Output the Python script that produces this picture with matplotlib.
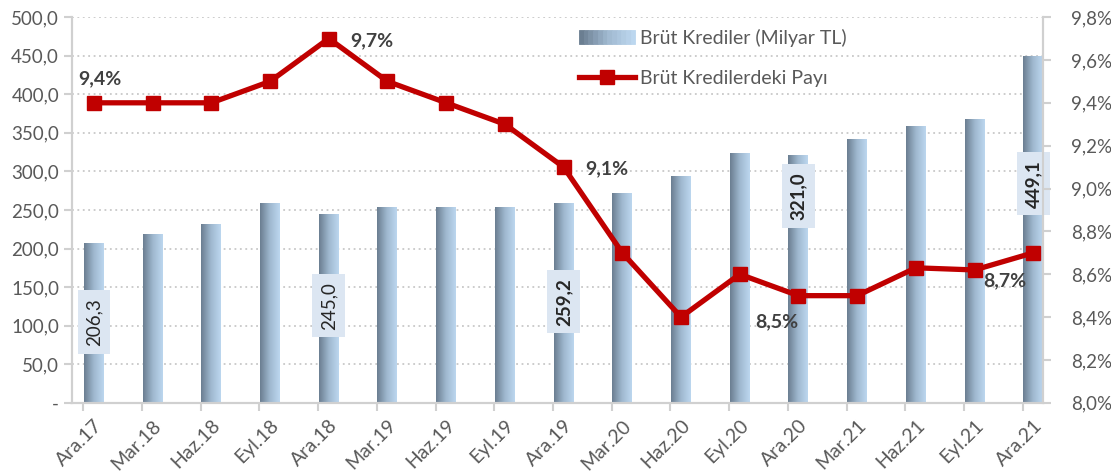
import numpy as np
import matplotlib.pyplot as plt
from matplotlib.patches import Patch
from matplotlib.lines import Line2D
from matplotlib.legend_handler import HandlerTuple
from matplotlib.colors import LinearSegmentedColormap

plt.rcParams['font.family'] = ['Lato', 'DejaVu Sans']

periods = ['Ara.17', 'Mar.18', 'Haz.18', 'Eyl.18', 'Ara.18', 'Mar.19', 'Haz.19', 'Eyl.19', 'Ara.19',
           'Mar.20', 'Haz.20', 'Eyl.20', 'Ara.20', 'Mar.21', 'Haz.21', 'Eyl.21', 'Ara.21']
credits = [206.3, 218, 232, 259, 245.0, 254, 254, 253, 259.2,
           271, 293, 324, 321.0, 341, 358, 367, 449.1]
share = [9.4, 9.4, 9.4, 9.5, 9.7, 9.5, 9.4, 9.3, 9.1,
         8.7, 8.4, 8.6, 8.5, 8.5, 8.63, 8.62, 8.7]

# labelled bars: index -> (bold, y of label centre)
bar_labels = {0: (False, 105), 4: (False, 126), 8: (True, 131), 12: (True, 268), 16: (True, 284)}
# labelled points: index -> (dx, dy, text)
pct_labels = {0: (0.1, 0.11, '9,4%'), 4: (0.74, -0.01, '9,7%'), 8: (0.74, -0.01, '9,1%'),
              12: (-0.37, -0.12, '8,5%'), 15: (0.51, -0.05, '8,7%')}

red = '#c00000'
grey = '#595959'
cmap = LinearSegmentedColormap.from_list('bar', ['#6b7e91', '#9fb8cf', '#bcd7ef'])

fig = plt.figure(figsize=(11.11, 4.75), dpi=100)
ax = fig.add_axes([0.065, 0.152, 0.874, 0.812])
ax2 = ax.twinx()

x = np.arange(len(periods))
w = 0.34
ax.bar(x, credits, width=w, color='none', zorder=2)
grad = np.linspace(0, 1, 64).reshape(1, -1)
for xi, v in zip(x, credits):
    ax.imshow(grad, cmap=cmap, aspect='auto', extent=[xi - w / 2, xi + w / 2, 0, v], zorder=2)

ax.set_xlim(-0.37, 16.17)
ax.set_ylim(0, 500)
ax.set_yticks(np.arange(0, 501, 50))
ax.set_yticklabels(['-'] + [('%.1f' % v).replace('.', ',') for v in np.arange(50, 501, 50)])
ax.grid(axis='y', color='#c8c8c8', linestyle=(0, (1, 2)), linewidth=1.3, zorder=0)
ax.set_axisbelow(True)

ax.set_xticks(x)
ax.set_xticklabels(periods, rotation=45, ha='right', rotation_mode='anchor', fontsize=14, color=grey)
ax.tick_params(axis='x', length=0, pad=10)
ax.set_xticks(x - 0.18, minor=True)
ax.tick_params(axis='x', which='minor', length=6, color='#d0d0d0', width=1.5)
ax.tick_params(axis='y', labelsize=13.5, labelcolor=grey, length=6, color='#d0d0d0', width=1.5)

for a in (ax, ax2):
    a.spines['top'].set_visible(False)
    for s in ['left', 'bottom', 'right']:
        a.spines[s].set_color('#d0d0d0')
        a.spines[s].set_linewidth(1.5)

for i, (bold, yc) in bar_labels.items():
    ax.text(x[i], yc, ('%.1f' % credits[i]).replace('.', ','), rotation=90, ha='center', va='center',
            fontsize=13.5, fontweight='bold' if bold else 'normal', color='#262626', zorder=4,
            bbox=dict(boxstyle='square,pad=0.42', fc='#dce6f2', ec='none'))

ax2.plot(x, share, color=red, lw=3.8, marker='s', markersize=10, zorder=5)
ax2.set_ylim(8.0, 9.8)
ax2.set_yticks(np.arange(8.0, 9.81, 0.2))
ax2.set_yticklabels([('%.1f%%' % v).replace('.', ',') for v in np.arange(8.0, 9.81, 0.2)])
ax2.tick_params(axis='y', labelsize=13.5, labelcolor=grey, length=6, color='#d0d0d0', width=1.5, pad=14)

for i, (dx, dy, txt) in pct_labels.items():
    ax2.text(x[i] + dx, share[i] + dy, txt, ha='center', va='center', fontsize=14,
             fontweight='bold', color='#404040', zorder=6)

grad_patches = tuple(Patch(facecolor=cmap(t), edgecolor=cmap(t), lw=0.6) for t in np.linspace(0, 1, 12))
handles = [grad_patches, Line2D([0], [0], color=red, lw=3.8, marker='s', markersize=10)]
ax2.legend(handles, ['Brüt Krediler (Milyar TL)', 'Brüt Kredilerdeki Payı'],
           handler_map={tuple: HandlerTuple(ndivide=None, pad=0)},
           loc='upper left', bbox_to_anchor=(0.514, 0.99), borderaxespad=0, frameon=False,
           fontsize=14, labelcolor=grey, handlelength=2.9, handletextpad=0.25, labelspacing=1.2)

fig.savefig('out.png', dpi=100)
